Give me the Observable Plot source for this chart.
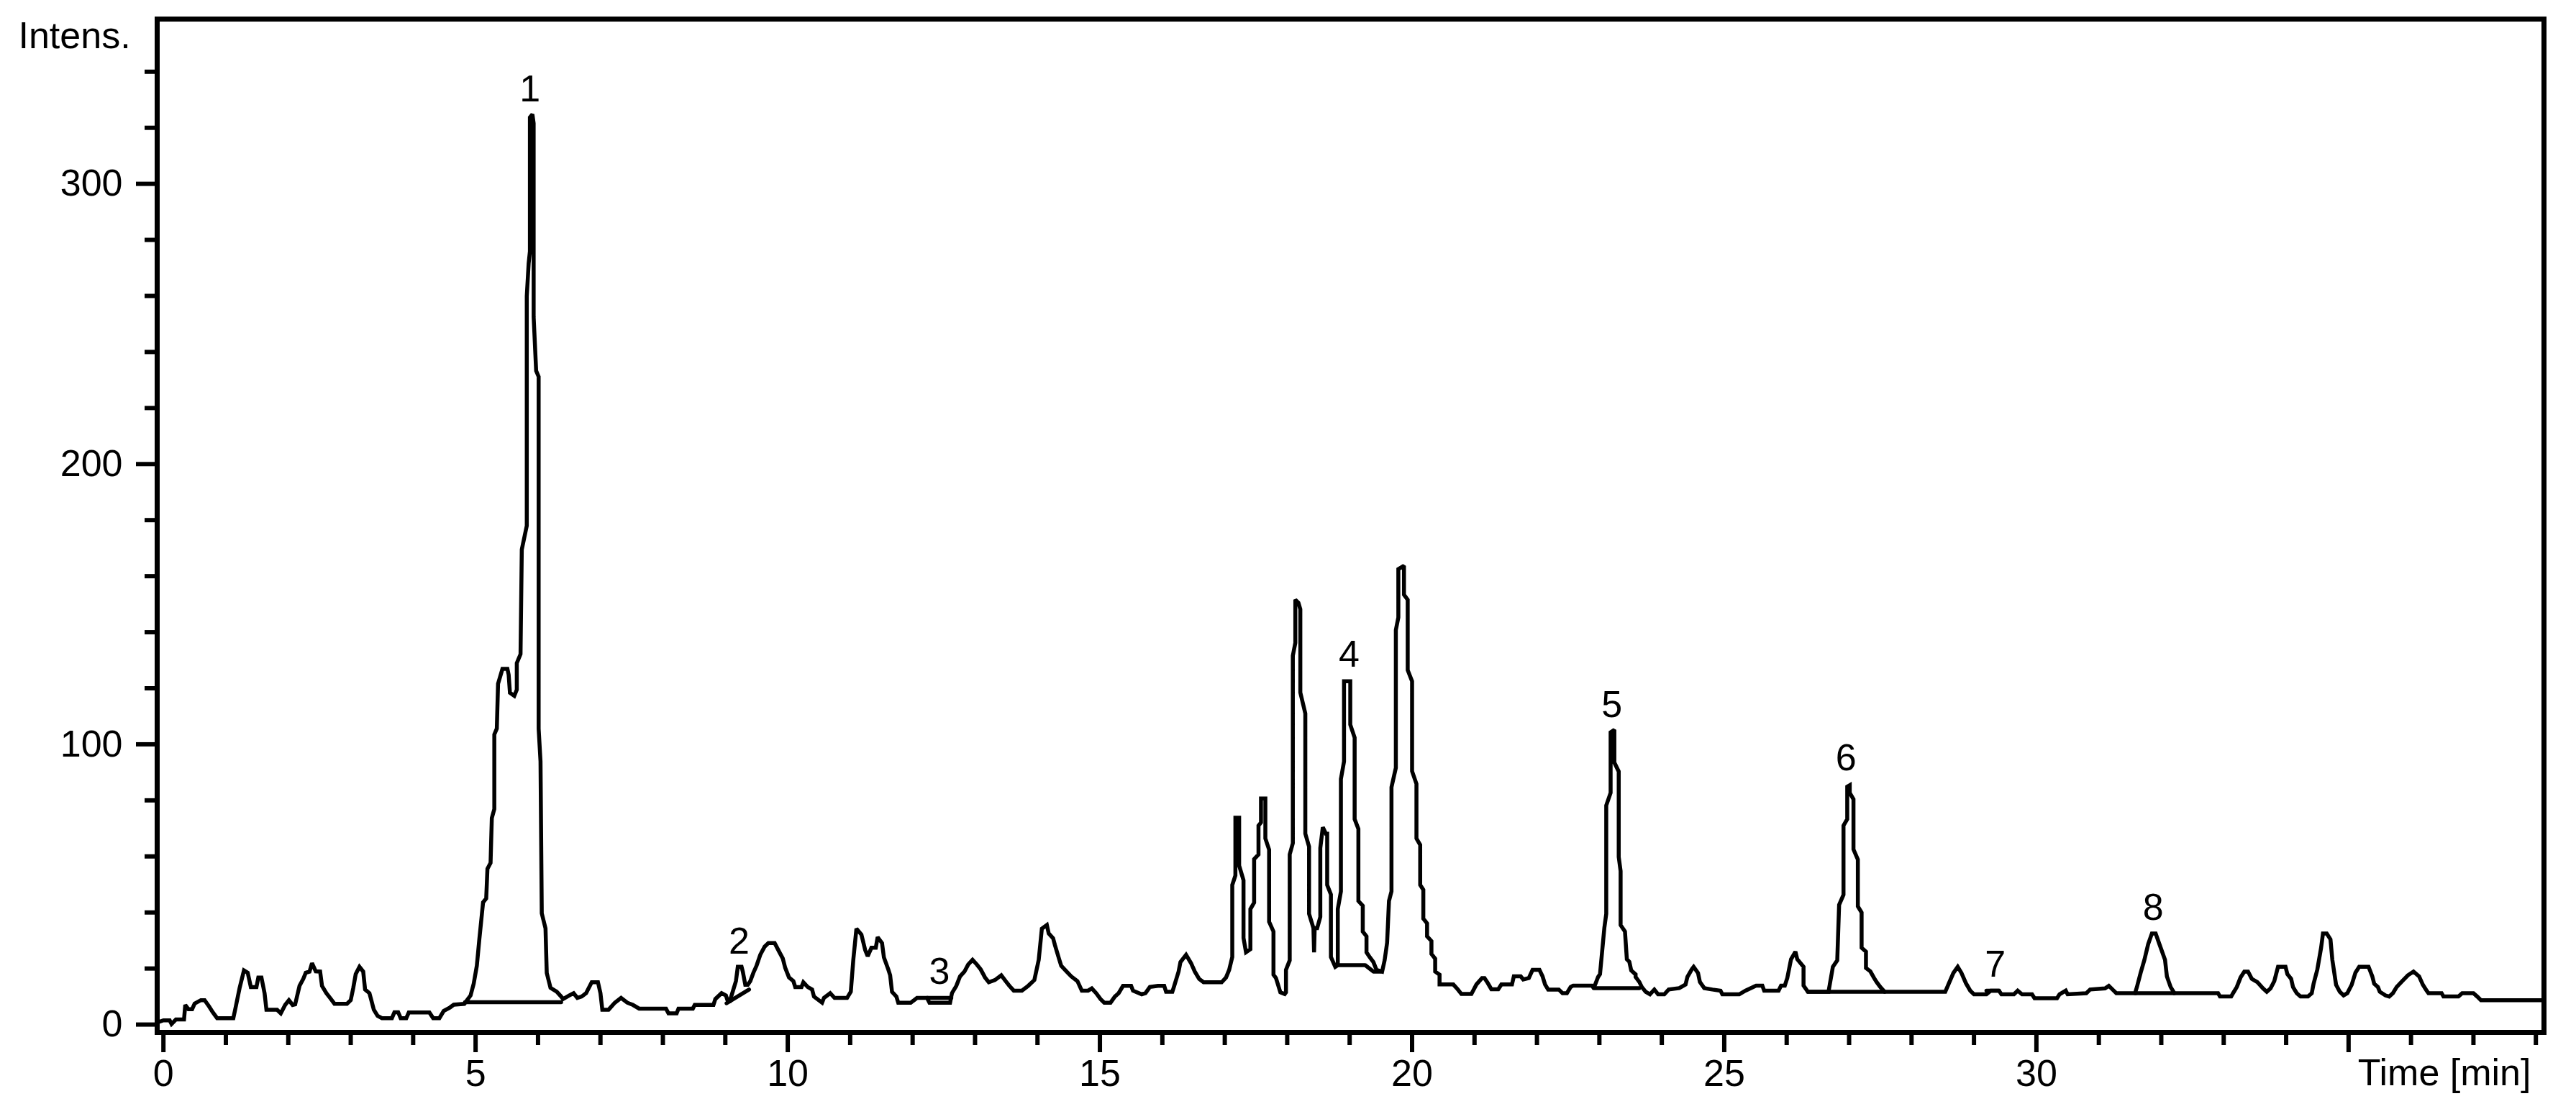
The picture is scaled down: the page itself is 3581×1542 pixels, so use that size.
<!DOCTYPE html>
<html>
<head>
<meta charset="utf-8">
<script src="https://cdn.jsdelivr.net/npm/d3@7"></script>
<script src="https://cdn.jsdelivr.net/npm/@observablehq/plot@0.6"></script>
<style>
  html, body { margin: 0; padding: 0; background: #fff; }
  #chart svg { display: block; }
</style>
</head>
<body>
<div id="chart"></div>
<script>
// Chromatogram trace: [time (min), intensity]
const chromatogram = [
  [-0.09,0.8],[0.0,1.5],[0.1,1.5],[0.13,0.2],[0.2,1.8],[0.33,1.8],[0.35,7],[0.4,5.5],[0.46,5.5],[0.5,7.5],
  [0.6,8.7],[0.66,8.7],[0.73,6.5],[0.79,4.4],[0.86,2.3],[1.12,2.3],[1.16,6.5],[1.22,13],[1.29,19.3],[1.35,18.5],
  [1.4,13.4],[1.49,13.4],[1.52,16.8],[1.57,16.8],[1.62,11.2],[1.65,5.3],[1.82,5.3],[1.88,4],[1.95,7],[2.01,8.7],
  [2.07,7],[2.11,7.2],[2.18,13.8],[2.24,16.3],[2.28,18.5],[2.34,18.9],[2.38,21.9],[2.44,19],[2.51,18.9],[2.54,13.8],
  [2.61,11.2],[2.67,9.5],[2.74,7.4],[2.94,7.4],[3.0,8.7],[3.04,13],[3.08,18],[3.14,20.6],[3.2,18.9],[3.23,12.5],
  [3.3,11.2],[3.33,8.7],[3.37,5.3],[3.43,3.1],[3.5,2.3],[3.66,2.3],[3.7,4.4],[3.76,4.4],[3.8,2.3],[3.89,2.3],
  [3.93,4.3],[4.26,4.3],[4.32,2.3],[4.42,2.3],[4.49,4.9],[4.59,6.1],[4.65,7.1],[4.82,7.4],[4.92,10.4],[4.97,14.6],
  [5.02,21],[5.06,30.4],[5.12,43.6],[5.17,45],[5.19,55.6],[5.24,57.7],[5.26,73.7],[5.30,76.9],[5.30,103.5],[5.34,105.6],
  [5.36,121.6],[5.43,126.9],[5.51,126.9],[5.53,124.8],[5.55,118.4],[5.62,117.3],[5.66,119.5],[5.66,129],[5.72,132.2],[5.74,169.5],
  [5.82,178],[5.82,259.9],[5.85,271.6],[5.87,275.9],[5.87,323.7],[5.91,324.8],[5.93,321.6],[5.93,252.5],[5.97,233.3],[6.01,231.2],
  [6.01,105.6],[6.04,93.9],[6.06,39.7],[6.12,34.3],[6.14,18.4],[6.2,13.1],[6.3,11.7],[6.37,10],[6.4,9.1],[6.5,10.4],
  [6.57,11.2],[6.63,9.5],[6.7,10],[6.77,11.2],[6.86,15.1],[6.96,15.1],[7.0,11.2],[7.03,5.3],[7.13,5.3],[7.23,7.8],
  [7.33,9.5],[7.43,7.8],[7.52,7],[7.62,5.7],[8.05,5.7],[8.09,4],[8.22,4],[8.25,5.7],[8.48,5.7],[8.51,7],
  [8.81,7],[8.84,9.1],[8.94,11.2],[9.01,10.4],[9.04,8.3],[9.07,8.3],[9.1,10.4],[9.17,15.5],[9.2,20.6],[9.26,20.6],
  [9.28,18.9],[9.32,14.2],[9.36,14.2],[9.4,15.5],[9.45,18.5],[9.5,21],[9.56,24.9],[9.63,27.8],[9.69,29.1],[9.79,29.1],
  [9.86,26.1],[9.92,23.6],[9.96,20.2],[10.02,16.8],[10.09,15.5],[10.12,13.4],[10.22,13.4],[10.25,15.1],[10.32,13.4],[10.39,12.5],
  [10.42,10],[10.55,7.8],[10.58,9.5],[10.68,11.2],[10.75,9.5],[10.95,9.5],[11.01,11.7],[11.05,23.1],[11.1,34.2],[11.18,32.1],
  [11.24,26.6],[11.28,24.4],[11.34,27.4],[11.41,27.4],[11.44,31.2],[11.51,29.1],[11.54,24],[11.61,19.7],[11.64,17.6],[11.67,11.7],
  [11.74,10],[11.77,7.8],[11.97,7.8],[12.07,9.5],[12.23,9.5],[12.27,7.8],[12.6,7.8],[12.63,11.2],[12.7,13.8],[12.76,17.2],
  [12.83,18.9],[12.89,21.4],[12.96,23.1],[13.03,21.4],[13.09,19.7],[13.16,16.8],[13.22,15.1],[13.32,15.9],[13.42,17.6],[13.49,15.5],
  [13.55,13.8],[13.62,12.1],[13.75,12.1],[13.85,13.8],[13.95,15.9],[14.02,23.1],[14.07,34.2],[14.15,35.5],[14.18,32.5],[14.25,30.8],
  [14.28,28.3],[14.35,23.1],[14.38,21],[14.45,19.3],[14.54,17.2],[14.64,15.5],[14.71,12.1],[14.81,12.1],[14.87,12.9],[14.94,11.2],
  [15.01,9.1],[15.07,7.8],[15.17,7.8],[15.24,10],[15.3,11.2],[15.37,13.8],[15.5,13.8],[15.53,12.1],[15.67,10.8],[15.73,11.2],
  [15.8,13.4],[15.93,13.8],[16.03,13.8],[16.06,11.7],[16.16,11.7],[16.19,13.8],[16.26,18.9],[16.29,22.3],[16.38,24.9],[16.46,21.9],
  [16.52,18.9],[16.59,16.3],[16.66,15.1],[16.95,15.1],[17.02,16.8],[17.07,19.5],[17.12,24.1],[17.12,49.8],[17.17,53.2],[17.17,73.8],
  [17.23,73.8],[17.23,56.7],[17.3,51.5],[17.3,30.9],[17.34,25.8],[17.41,26.9],[17.41,41.2],[17.47,43.5],[17.47,59],[17.54,60.7],
  [17.54,71],[17.58,72.1],[17.58,80.7],[17.65,80.7],[17.65,66.4],[17.71,62.4],[17.71,36.7],[17.78,33.2],[17.78,17.8],[17.82,16.6],
  [17.89,11.5],[17.96,10.9],[17.98,11.5],[17.98,19.5],[18.04,22.9],[18.04,60.7],[18.09,64.7],[18.09,131.6],[18.13,136.2],[18.13,151.6],
  [18.18,150.5],[18.21,148.2],[18.21,118.5],[18.29,111],[18.29,68.1],[18.35,63.5],[18.35,39.5],[18.42,34.4],[18.43,25.8],[18.44,34.4],
  [18.48,34.4],[18.53,38.4],[18.53,63],[18.57,70.4],[18.62,68.1],[18.64,68.1],[18.64,49.8],[18.7,46.4],[18.7,24.1],[18.77,20.6],
  [18.81,21.2],[18.81,41.2],[18.86,47.5],[18.86,87.6],[18.91,93.9],[18.91,122.5],[19.01,122.5],[19.01,107],[19.08,102.4],[19.08,73.3],
  [19.14,69.8],[19.14,44.1],[19.21,42.4],[19.21,33.2],[19.27,31.5],[19.27,25.8],[19.32,24.1],[19.38,22.3],[19.43,19.5],[19.52,18.9],
  [19.56,22.9],[19.6,29.2],[19.63,44.1],[19.67,47.5],[19.67,84.7],[19.74,91.6],[19.74,140.8],[19.78,145.3],[19.78,162.5],[19.87,163.7],
  [19.87,153.4],[19.93,151.6],[19.93,126.5],[20.0,122.5],[20.0,90.4],[20.07,85.9],[20.07,66.4],[20.13,64.1],[20.13,49.8],[20.18,48.1],
  [20.18,37.8],[20.24,36.1],[20.24,31.5],[20.31,29.8],[20.31,25.2],[20.37,23.5],[20.37,18.9],[20.44,17.8],[20.44,14.3],[20.66,14.3],
  [20.73,12.6],[20.79,10.9],[20.95,10.9],[20.99,12.6],[21.03,14.3],[21.12,16.6],[21.16,16.6],[21.21,14.9],[21.27,12.6],[21.38,12.6],
  [21.43,14.3],[21.6,14.3],[21.63,17.2],[21.74,17.2],[21.78,16.1],[21.87,16.6],[21.93,19.5],[22.04,19.5],[22.09,17.2],[22.13,14.3],
  [22.18,12.5],[22.35,12.5],[22.41,11.2],[22.48,11.2],[22.54,13.4],[22.58,13.9],[22.88,13.9],[22.91,13.0],[22.98,17],[23.01,18],
  [23.08,34.6],[23.11,39.5],[23.11,78.2],[23.18,82.7],[23.18,104.3],[23.24,105.2],[23.24,93.5],[23.31,90.3],[23.31,59.8],[23.34,54.8],
  [23.34,35.5],[23.41,33.2],[23.44,23.3],[23.48,22.4],[23.51,19.3],[23.58,17.9],[23.58,17],[23.64,15.2],[23.68,13.4],[23.74,11.7],
  [23.81,10.8],[23.88,12.5],[23.94,10.8],[24.04,10.8],[24.11,12.5],[24.28,13],[24.38,14.3],[24.41,17],[24.48,19.7],[24.51,20.6],
  [24.58,18.4],[24.61,15.2],[24.68,13],[24.81,12.5],[24.94,12.1],[24.97,10.8],[25.24,10.8],[25.34,12.1],[25.51,13.9],[25.61,13.9],
  [25.64,12.1],[25.87,12.1],[25.91,13.9],[25.97,13.9],[26.01,16.6],[26.07,23.3],[26.14,26],[26.17,23.3],[26.27,20.6],[26.27,13.9],
  [26.34,11.7],[26.67,11.7],[26.74,20.6],[26.81,22.9],[26.84,42.7],[26.91,46.3],[26.91,71],[26.97,73.3],[26.97,84.9],[27.01,85.4],
  [27.01,82.7],[27.07,80.4],[27.07,62.5],[27.14,58.9],[27.14,42.2],[27.2,40],[27.2,27.4],[27.27,26],[27.27,20.2],[27.34,19],
  [27.4,16.6],[27.44,15.2],[27.5,13.4],[27.57,11.7],[28.54,11.7],[28.6,14.8],[28.67,18.4],[28.74,20.6],[28.8,18.4],[28.87,14.8],
  [28.94,12.1],[29.0,10.8],[29.2,10.8],[29.27,12.1],[29.4,12.1],[29.44,10.8],[29.64,10.8],[29.7,12.1],[29.77,10.8],[29.93,10.8],
  [29.97,9.4],[30.33,9.4],[30.37,10.8],[30.47,12.1],[30.5,10.8],[30.8,11.2],[30.86,12.5],[31.1,12.9],[31.16,13.8],[31.22,12.5],
  [31.28,11.2],[31.58,11.2],[31.61,13.4],[31.67,18.5],[31.73,23.1],[31.79,28.7],[31.85,32.5],[31.91,32.5],[31.97,28.7],[32.06,23.1],
  [32.09,17.2],[32.15,13.4],[32.21,11.2],[32.91,11.2],[32.94,10],[33.12,10],[33.15,11.2],[33.21,13.4],[33.27,16.8],[33.33,18.9],
  [33.39,18.9],[33.45,16.3],[33.54,15.1],[33.63,12.9],[33.69,11.7],[33.75,12.9],[33.81,15.5],[33.87,20.6],[33.99,20.6],[34.02,18],
  [34.08,16.3],[34.11,13.4],[34.17,11.2],[34.23,10],[34.35,10],[34.41,11.2],[34.44,14.6],[34.5,19.7],[34.56,27.4],[34.59,32.5],
  [34.65,32.5],[34.71,30.4],[34.74,23.1],[34.8,14.2],[34.86,11.7],[34.92,10.4],[34.98,11.2],[35.05,14.2],[35.11,18.5],[35.17,20.6],
  [35.32,20.6],[35.38,17.2],[35.41,14.6],[35.47,13.4],[35.5,11.7],[35.59,10.4],[35.65,10],[35.71,11.2],[35.77,13.4],[35.86,15.5],
  [35.95,17.6],[36.04,18.9],[36.13,17.2],[36.19,14.2],[36.25,12.1],[36.28,11.2],[36.49,11.2],[36.52,10],[36.76,10],[36.82,11.2],
  [37.0,11.2],[37.06,10],[37.12,8.7],[38.13,8.7]
];

// Integration baselines drawn under the numbered peaks
const integrationBaselines = [
  [[4.83,8.0],[6.37,8.0]],
  [[9.02,7.6],[9.38,12.5]],
  [[12.23,9.5],[12.62,9.5]],
  [[18.77,21.2],[19.25,21.2],[19.38,18.9],[19.5,18.9]],
  [[22.91,13.0],[23.64,13.0]],
  [[26.34,11.7],[27.57,11.7]],
  [[29.2,12.1],[29.4,12.1]],
  [[31.58,11.2],[32.21,11.2]]
];

// Peak numbers and where they sit
const peakNumbers = ["1","2","3","4","5","6","7","8"];
const peakLabelTime = [5.87, 9.22, 12.43, 18.99, 23.2, 26.95, 29.34, 31.87];
const peakLabelIntensity = [333.8, 29.7, 18.8, 132, 114, 95, 21.3, 41.7];

// Axis ticks
const yMajorTicks = [0, 100, 200, 300];
const yMinorTicks = [20, 40, 60, 80, 120, 140, 160, 180, 220, 240, 260, 280, 320, 340];
const xMajorTicks = [0, 5, 10, 15, 20, 25, 30, 35];
const xTickLabels = ["0", "5", "10", "15", "20", "25", "30", ""];
const xMinorTicks = d3.range(1, 39).filter(d => d % 5 !== 0);
const yAxisTitle = "Intens.";
const xAxisTitle = "Time [min]";

const trace = chromatogram.map(([t, v]) => ({t, v}));
const baselines = integrationBaselines.flatMap((seg, i) => seg.map(([t, v]) => ({id: i, t, v})));
const labels = peakNumbers.map((n, i) => ({n, t: peakLabelTime[i], v: peakLabelIntensity[i]}));

const font = "'Liberation Sans', Arial, Helvetica, sans-serif";

const chart = Plot.plot({
  width: 3581,
  height: 1542,
  marginLeft: 218,
  marginRight: 45,
  marginTop: 26,
  marginBottom: 107,
  style: {fontFamily: font, fontSize: "52px", color: "black", background: "white", overflow: "visible"},
  x: {domain: [-0.1, 38.13], label: null},
  y: {domain: [-2.8, 358.8], label: null},
  marks: [
    Plot.line(trace, {x: "t", y: "v", stroke: "black", strokeWidth: 5.5, strokeLinejoin: "miter", strokeMiterlimit: 2}),
    Plot.line(baselines, {x: "t", y: "v", z: "id", stroke: "black", strokeWidth: 5.5}),
    Plot.text(labels, {x: "t", y: "v", text: "n", fontSize: 52, fill: "black"}),
    Plot.axisY({ticks: yMinorTicks, tickSize: 17, tickFormat: () => "", strokeWidth: 6, label: null}),
    Plot.axisY({ticks: yMajorTicks, tickSize: 29, tickPadding: 19, fontSize: 52, strokeWidth: 6, label: null}),
    Plot.axisX({ticks: xMinorTicks, tickSize: 18, tickFormat: () => "", strokeWidth: 6, label: null}),
    Plot.axisX({ticks: xMajorTicks, tickSize: 28, tickPadding: 10, fontSize: 52, strokeWidth: 6, label: null,
      tickFormat: d => xTickLabels[xMajorTicks.indexOf(d)]}),
    Plot.frame({stroke: "black", strokeWidth: 7}),
    Plot.text([yAxisTitle], {text: d => d, frameAnchor: "top-left", dx: -193, dy: 4, textAnchor: "start", lineAnchor: "top", fontSize: 52}),
    Plot.text([xAxisTitle], {text: d => d, frameAnchor: "bottom-right", dx: -18, dy: 37, textAnchor: "end", lineAnchor: "top", fontSize: 52})
  ]
});
document.getElementById("chart").appendChild(chart);
</script>
</body>
</html>
